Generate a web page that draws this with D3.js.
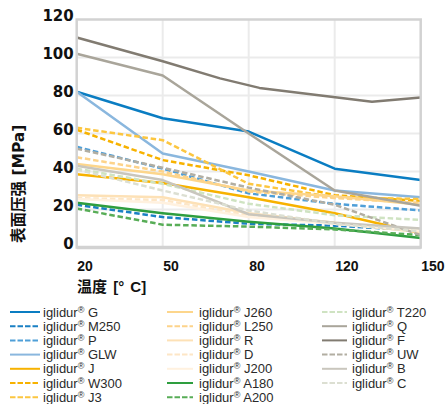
<!DOCTYPE html>
<html>
<head>
<meta charset="utf-8">
<script src="https://cdn.jsdelivr.net/npm/d3@7/dist/d3.min.js"></script>
<style>
  html, body { margin: 0; padding: 0; background: #fff; }
  svg { display: block; }
</style>
</head>
<body>
<svg id="chart" width="447" height="404"></svg>
<script>
// Temperature ticks (°C) and surface pressure ticks (MPa)
const xTicks = [20, 50, 80, 120, 150];
const yTicks = [0, 20, 40, 60, 80, 100, 120];

// Temperatures at which each material is sampled
const tempsStd = [20, 50, 80, 120, 150];
const tempsF = [20, 50, 70, 85, 133, 150];

// Material names, legend order
const names = ["G", "M250", "P", "GLW", "J", "W300", "J3",
               "J260", "L250", "R", "D", "J200", "A180", "A200",
               "T220", "Q", "F", "UW", "B", "C"];

// Max. surface pressure per material (MPa)
const valG    = [82, 68, 61, 41.5, 35.5];
const valM250 = [22.5, 16, 12.5, 11.5, 9];
const valP    = [53, 41.5, 28.5, 23, 19.5];
const valGLW  = [82, 49.5, 40, 30, 26.5];
const valJ    = [38.5, 34, 26.5, 18, 7.5];
const valW300 = [62, 46, 38, 27.5, 24.5];
const valJ3   = [63, 56.5, 33.5, 26.5, 25.5];
const valJ260 = [44, 38.5, 30, 27, 22.5];
const valL250 = [47.5, 40, 29.5, 26, 23.5];
const valR    = [27.5, 26.5, 18, 13, 8];
const valD    = [26, 25, 17, 12.5, 8.5];
const valJ200 = [25.5, 23.5, 16, 12.5, 9];
const valA180 = [23.5, 18, 13.5, 10, 5];
const valA200 = [20.5, 12, 11, 9.5, 6.5];
const valT220 = [41.5, 33.5, 23, 17, 14.5];
const valQ    = [102, 90.5, 60, 30, 22];
const valF    = [110.5, 98, 89, 84, 76.7, 79];
const valUW   = [52, 42, 31.5, 22.5, 6.5];
const valB    = [43, 35.5, 17.5, 13, 10];
const valC    = [41, 30, 19.5, 12.5, 8.5];

const values = [valG, valM250, valP, valGLW, valJ, valW300, valJ3,
                valJ260, valL250, valR, valD, valJ200, valA180, valA200,
                valT220, valQ, valF, valUW, valB, valC];
const temps = names.map(n => n === "F" ? tempsF : tempsStd);

const colors = ["#0a7dc2", "#1a80c4", "#4f9fd8", "#8ab7de", "#f7b200", "#f7b200", "#fcc640",
                "#fdd68c", "#fdd38a", "#fde1b6", "#fde6c6", "#fff1df", "#2e9e3f", "#58ad57",
                "#cfe3c2", "#a9a59a", "#817b71", "#b2aea2", "#c9c6bd", "#dcdfd2"];
const dashed = [false, true, true, false, false, true, true,
                false, true, false, true, false, false, true,
                true, false, false, true, false, true];

const series = names.map((n, i) => ({
  name: n,
  color: colors[i],
  dashed: dashed[i],
  points: temps[i].map((t, j) => ({ t, v: values[i][j] }))
}));

// Plot frame
const plotLeft = 76.7, plotRight = 420.7, plotTop = 19.5, plotBottom = 247.5;

const svg = d3.select("#chart");

// Temperature ticks are spaced evenly, so the scale is piecewise linear
const x = d3.scaleLinear()
  .domain(xTicks)
  .range(xTicks.map((d, i) => plotLeft + i * (plotRight - plotLeft) / (xTicks.length - 1)));
const y = d3.scaleLinear().domain([0, 120]).range([plotBottom, plotTop]);

// Grid
const grid = svg.append("g");
grid.selectAll("line.h").data(yTicks.filter(d => d > 0 && d < 120)).join("line")
  .attr("class", "h")
  .attr("x1", plotLeft).attr("x2", plotRight)
  .attr("y1", d => y(d)).attr("y2", d => y(d))
  .attr("stroke", "#ebebeb").attr("stroke-width", 2);
grid.selectAll("line.v").data(xTicks.slice(1, -1)).join("line")
  .attr("class", "v")
  .attr("y1", plotTop).attr("y2", plotBottom)
  .attr("x1", d => x(d)).attr("x2", d => x(d))
  .attr("stroke", "#ebebeb").attr("stroke-width", 2);

// Lines
const line = d3.line().x(d => x(d.t)).y(d => y(d.v));
svg.append("g").selectAll("path").data(series).join("path")
  .attr("d", d => line(d.points))
  .attr("fill", "none")
  .attr("stroke", d => d.color)
  .attr("stroke-width", 2.5)
  .attr("stroke-linejoin", "round")
  .attr("stroke-dasharray", d => d.dashed ? "5.5,2.8" : null);

// Frame
svg.append("rect")
  .attr("x", plotLeft).attr("y", plotTop)
  .attr("width", plotRight - plotLeft).attr("height", plotBottom - plotTop)
  .attr("fill", "none").attr("stroke", "#d2d2d2").attr("stroke-width", 2.5);
svg.append("line")
  .attr("x1", plotLeft).attr("x2", plotRight)
  .attr("y1", plotBottom).attr("y2", plotBottom)
  .attr("stroke", "#d2d2d2").attr("stroke-width", 3.5);

// Y axis
const yAxis = svg.append("g")
  .attr("transform", `translate(${plotLeft},0)`)
  .call(d3.axisLeft(y).tickValues(yTicks).tickSize(0).tickPadding(0));
yAxis.select(".domain").remove();
yAxis.selectAll("text")
  .attr("x", -3).attr("dy", 1)
  .attr("text-anchor", "end")
  .attr("fill", "#111")
  .style("font-family", "'DejaVu Sans', sans-serif")
  .style("font-weight", "bold")
  .style("font-size", "15px");

// X axis
const xAxis = svg.append("g")
  .attr("transform", `translate(0,${plotBottom})`)
  .call(d3.axisBottom(x).tickValues(xTicks).tickSize(0).tickPadding(0));
xAxis.select(".domain").remove();
xAxis.selectAll("text")
  .attr("y", 0).attr("dy", 23.5)
  .attr("text-anchor", "start")
  .attr("fill", "#111")
  .style("font-family", "'Liberation Sans', Arial, sans-serif")
  .style("font-weight", "bold")
  .style("font-size", "14px");

// Axis titles
svg.append("text")
  .attr("transform", "translate(24,243) rotate(-90)")
  .attr("text-anchor", "start")
  .attr("fill", "#111")
  .style("font-family", "'DejaVu Sans', 'Noto Sans CJK SC', sans-serif")
  .style("font-weight", "bold")
  .style("font-size", "15.5px")
  .text("表面压强 [MPa]");

svg.append("text")
  .attr("x", 77).attr("y", 292)
  .attr("fill", "#111")
  .style("font-family", "'Liberation Sans', 'Noto Sans CJK SC', sans-serif")
  .style("font-weight", "bold")
  .style("font-size", "15px")
  .style("word-spacing", "2px")
  .text("温度 [° C]");

// Legend: three columns
const legendCols = [
  { x1: 10, x2: 40, tx: 43, from: 0, to: 7 },
  { x1: 167, x2: 193, tx: 199, from: 7, to: 14 },
  { x1: 322, x2: 347, tx: 352, from: 14, to: 20 }
];
const rowY0 = 312, rowStep = 14.2;

legendCols.forEach(col => {
  const items = series.slice(col.from, col.to);
  const g = svg.append("g");
  const rows = g.selectAll("g").data(items).join("g")
    .attr("transform", (d, i) => `translate(0,${rowY0 + i * rowStep})`);
  rows.append("line")
    .attr("x1", col.x1).attr("x2", col.x2)
    .attr("stroke", d => d.color)
    .attr("stroke-width", 2)
    .attr("stroke-dasharray", d => d.dashed ? "5.5,2" : null);
  const t = rows.append("text")
    .attr("x", col.tx).attr("y", 4.5)
    .attr("fill", "#2a2a2a")
    .style("font-family", "'Liberation Sans', Arial, sans-serif")
    .style("font-size", "13px");
  t.append("tspan").text("iglidur");
  t.append("tspan").attr("dy", -4).style("font-size", "9px").text("®");
  t.append("tspan").attr("dy", 4).text(d => " " + d.name);
});
</script>
</body>
</html>
